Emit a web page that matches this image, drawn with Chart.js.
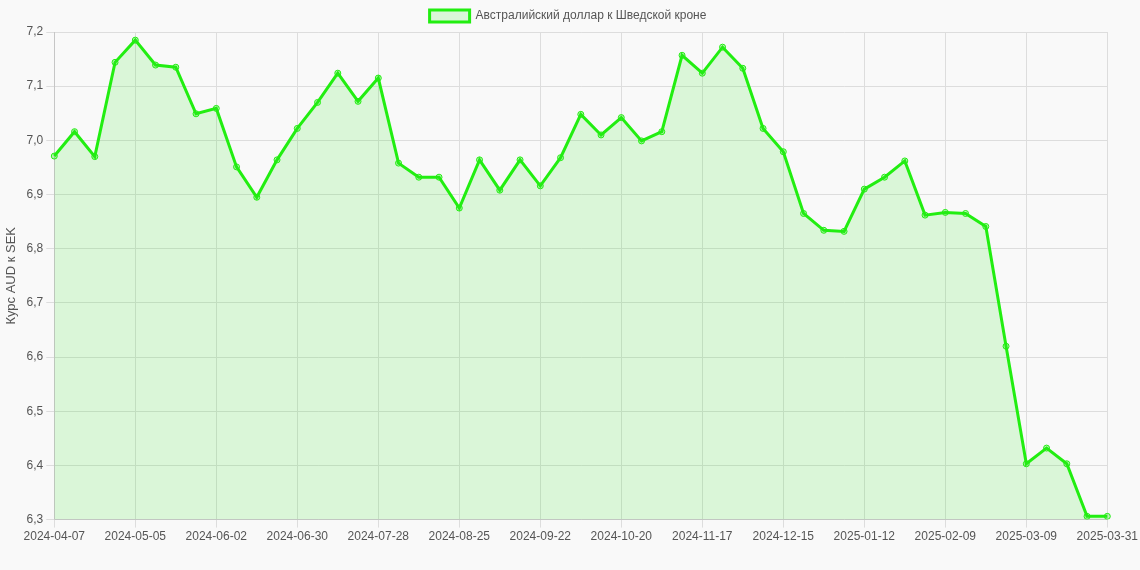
<!DOCTYPE html>
<html><head><meta charset="utf-8">
<script src="https://cdn.jsdelivr.net/npm/chart.js@4"></script>
<style>html,body{margin:0;background:#f9f9f9;}#w{width:1140px;height:570px;}</style>
</head><body><div id="w"><canvas id="c"></canvas></div>
<script>
const startDate = '2024-04-07';
const lastLabel = '2025-03-31';
const values = [6.971,7.016,6.970,7.144,7.185,7.139,7.135,7.049,7.059,6.951,6.895,6.964,7.022,7.070,7.124,7.072,7.115,6.958,6.932,6.932,6.875,6.964,6.908,6.964,6.916,6.968,7.048,7.010,7.042,6.999,7.016,7.157,7.124,7.172,7.133,7.022,6.979,6.865,6.834,6.832,6.910,6.932,6.962,6.862,6.867,6.865,6.841,6.620,6.403,6.432,6.403,6.306,6.306];
const labels = [];
{ const d = new Date(startDate+'T00:00:00Z');
  for (let i=0;i<values.length;i++){ labels.push(d.toISOString().slice(0,10)); d.setUTCDate(d.getUTCDate()+7); }
  labels[labels.length-1] = lastLabel; }
Chart.defaults.font.family = 'Arial, "Liberation Sans", sans-serif';
Chart.defaults.color = '#555';
new Chart(document.getElementById('c'), {
  type:'line',
  data:{labels, datasets:[{label:'Австралийский доллар к Шведской кроне', data:values,
    borderColor:'#22ee11', backgroundColor:'rgba(40,230,30,0.15)', fill:true, borderWidth:3,
    pointRadius:3, pointBackgroundColor:'rgba(40,230,30,0.3)', pointBorderColor:'#22ee11', pointBorderWidth:1, tension:0}]},
  options:{responsive:true, maintainAspectRatio:false, animation:false, locale:'ru-RU',
    layout:{padding:{right:4, bottom:24}},
    plugins:{legend:{labels:{font:{size:12}}}},
    scales:{
      x:{ticks:{autoSkip:true, maxRotation:0, font:{size:12}, padding:2}, grid:{color:'#ddd'}},
      y:{min:6.3,max:7.2, ticks:{stepSize:0.1, font:{size:12}, callback:v=>v.toFixed(1).replace('.',',')}, grid:{color:'#ddd'},
        title:{display:true,text:'Курс AUD к SEK', font:{size:13}}}
    }}
});
</script></body></html>
